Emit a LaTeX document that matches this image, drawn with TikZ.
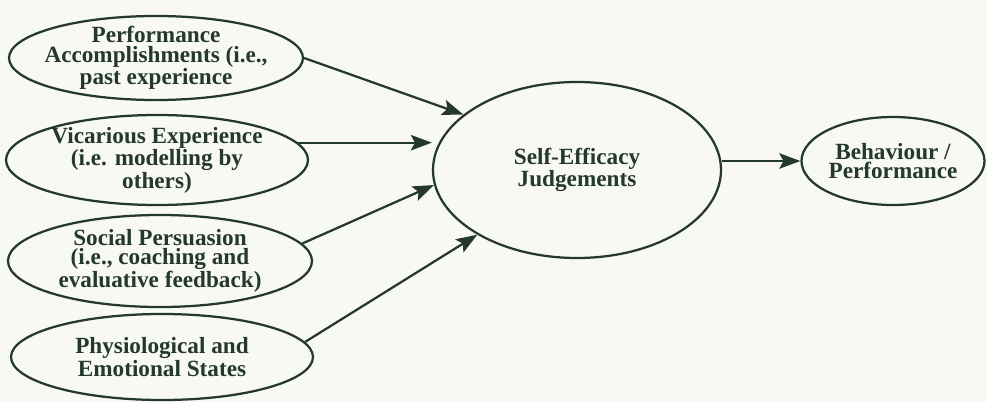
\documentclass[tikz,border=0pt]{standalone}
\usepackage{fontspec}
\setmainfont{Liberation Serif}
\usepackage{xcolor}
\usepackage{tikz}
\usetikzlibrary{arrows.meta,shapes.geometric,calc}
\definecolor{ink}{RGB}{36,56,46}
\definecolor{paper}{RGB}{248,249,245}

\begin{document}
\begin{tikzpicture}[x=0.025cm, y=-0.025cm,
      font=\fontsize{16.5}{14}\selectfont\bfseries,
      oval/.style={draw=ink, ellipse, line width=1.6pt, inner xsep=-20pt, inner ysep=-6pt, align=center, text=ink},
      arr/.style={draw=ink, line width=1.6pt, -{Stealth[length=15pt, width=11pt, inset=3pt]}}]
    \fill[paper] (0,0) rectangle (987,402);
    \useasboundingbox (0,0) rectangle (987,402);
    % the four sources
    \foreach \name/\cx/\cy/\w/\h/\lab in {perf/156/58/294/84/{Performance\\Accomplishments (i.e.,\\past experience},
                                          vic/157/160/302/90/{Vicarious Experience\\(i.e. modelling by\\others)},
                                          soc/160/261/304/92/{Social Persuasion\\(i.e., coaching and\\evaluative feedback)},
                                          phys/162/357/302/86/{Physiological and\\Emotional States}} {
      \node[oval, minimum width=\w*0.025cm, minimum height=\h*0.025cm] (\name) at (\cx,\cy) {\lab};
    }
    \node[oval, minimum width=288*0.025cm, minimum height=176*0.025cm] (judge) at (577,170) {Self-Efficacy\\Judgements};
    \node[oval, minimum width=183*0.025cm, minimum height=88*0.025cm] (behav) at (893,161) {Behaviour /\\Performance};
    \draw[arr] (perf.east) -- (judge.154);
    \draw[arr] (vic.7) -- (vic.7 -| judge.west);
    \draw[arr] (soc.7) -- (judge.186);
    \draw[arr] (phys.6) -- (judge.213);
    \draw[arr] (behav.west -| judge.east) -- (behav.west);
  \end{tikzpicture}
\end{document}
